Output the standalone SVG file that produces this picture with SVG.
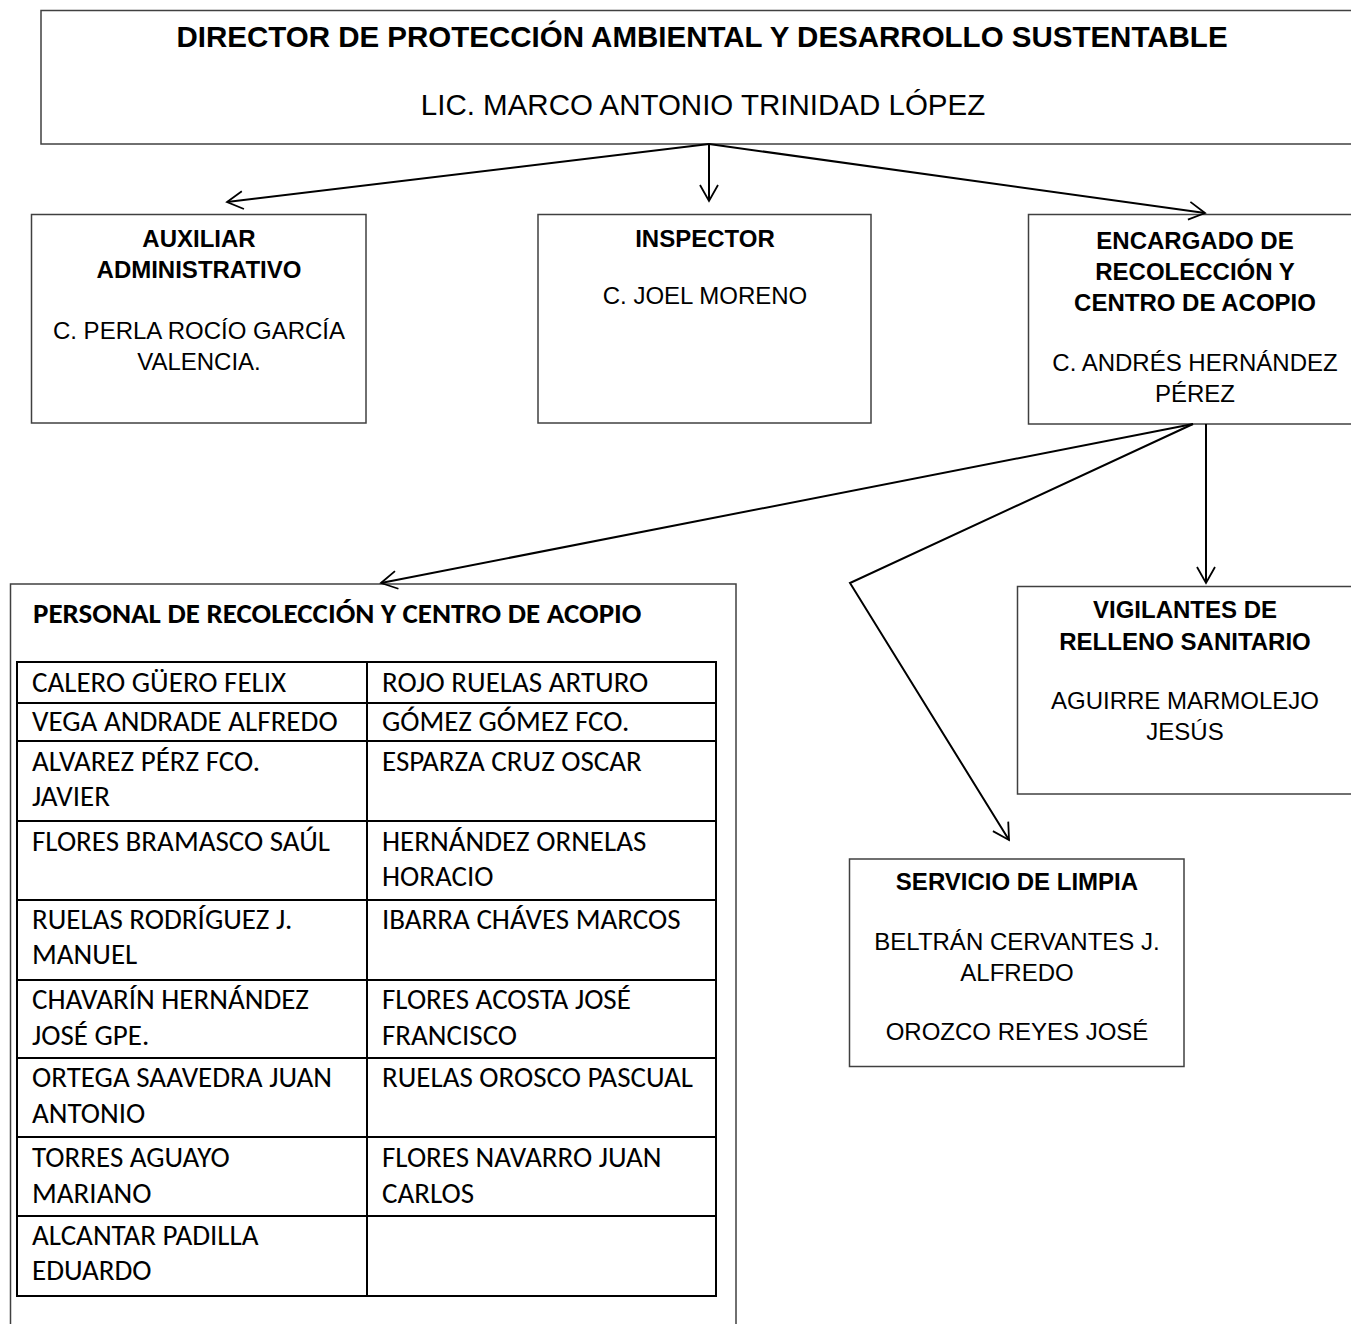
<svg xmlns="http://www.w3.org/2000/svg" width="1351" height="1324" viewBox="0 0 1351 1324">
  <style>
    .box { fill: #ffffff; stroke: #404040; stroke-width: 1.5; }
    .conn { fill: none; stroke: #000000; stroke-width: 2; }
    .hd { font-family: "Liberation Sans", Arial, sans-serif; font-weight: bold; font-size: 24px; fill: #000; text-anchor: middle; }
    .nm { font-family: "Liberation Sans", Arial, sans-serif; font-size: 24px; fill: #000; text-anchor: middle; }
    .title { font-family: "Liberation Sans", Arial, sans-serif; font-weight: bold; font-size: 29.5px; fill: #000; text-anchor: middle; }
    .dname { font-family: "Liberation Sans", Arial, sans-serif; font-size: 29.5px; fill: #000; text-anchor: middle; }
    .tbl { fill: none; stroke: #000; stroke-width: 2; }
    .cell { font-family: Carlito, Lato, "Open Sans", sans-serif; font-size: 29px; fill: #000; }
    .thd { font-family: Carlito, Lato, "Open Sans", sans-serif; font-weight: bold; font-size: 29px; fill: #000; }
  </style>
  <defs>
    <marker id="arr" markerUnits="userSpaceOnUse" viewBox="-18 -11 20 22" markerWidth="20" markerHeight="22" refX="0" refY="0" orient="auto">
      <path d="M-16,-9 L0,0 L-16,9" fill="none" stroke="#000" stroke-width="1.8"/>
    </marker>
  </defs>
  <rect width="1351" height="1324" fill="#ffffff"/>

  <g id="director">
    <rect class="box" x="41" y="10.5" width="1330" height="133.5"/>
    <text class="title" x="702" y="47">DIRECTOR DE PROTECCIÓN AMBIENTAL Y DESARROLLO SUSTENTABLE</text>
    <text class="dname" x="703" y="115">LIC. MARCO ANTONIO TRINIDAD LÓPEZ</text>
  </g>

  <g id="auxiliar">
    <rect class="box" x="31.5" y="214.5" width="334.5" height="208.5"/>
    <text class="hd" x="199" y="247">AUXILIAR</text>
    <text class="hd" x="199" y="278">ADMINISTRATIVO</text>
    <text class="nm" x="199" y="339">C. PERLA ROCÍO GARCÍA</text>
    <text class="nm" x="199" y="370">VALENCIA.</text>
  </g>

  <g id="inspector">
    <rect class="box" x="538" y="214.5" width="333" height="208.5"/>
    <text class="hd" x="705" y="247">INSPECTOR</text>
    <text class="nm" x="705" y="304">C. JOEL MORENO</text>
  </g>

  <g id="encargado">
    <rect class="box" x="1028.5" y="214.5" width="340" height="209.5"/>
    <text class="hd" x="1195" y="249">ENCARGADO DE</text>
    <text class="hd" x="1195" y="280">RECOLECCIÓN Y</text>
    <text class="hd" x="1195" y="311">CENTRO DE ACOPIO</text>
    <text class="nm" x="1195" y="371">C. ANDRÉS HERNÁNDEZ</text>
    <text class="nm" x="1195" y="402">PÉREZ</text>
  </g>

  <g id="personal">
    <rect class="box" x="10.5" y="584" width="725.5" height="780"/>
    <text class="thd" x="33" y="623">PERSONAL DE RECOLECCIÓN Y CENTRO DE ACOPIO</text>
    <g id="tabla">
      <rect class="tbl" x="17" y="662" width="699" height="634"/>
      <line class="tbl" x1="367" y1="662" x2="367" y2="1296"/>
      <line class="tbl" x1="17" y1="703" x2="716" y2="703"/>
      <line class="tbl" x1="17" y1="741" x2="716" y2="741"/>
      <line class="tbl" x1="17" y1="821" x2="716" y2="821"/>
      <line class="tbl" x1="17" y1="900" x2="716" y2="900"/>
      <line class="tbl" x1="17" y1="980" x2="716" y2="980"/>
      <line class="tbl" x1="17" y1="1058" x2="716" y2="1058"/>
      <line class="tbl" x1="17" y1="1137" x2="716" y2="1137"/>
      <line class="tbl" x1="17" y1="1216" x2="716" y2="1216"/>
    </g>
    <text class="cell" x="32" y="692">CALERO GÜERO FELIX</text>
    <text class="cell" x="382" y="692">ROJO RUELAS ARTURO</text>
    <text class="cell" x="32" y="731">VEGA ANDRADE ALFREDO</text>
    <text class="cell" x="382" y="731">GÓMEZ GÓMEZ FCO.</text>
    <text class="cell" x="32" y="771">ALVAREZ PÉRZ FCO.</text>
    <text class="cell" x="32" y="806">JAVIER</text>
    <text class="cell" x="382" y="771">ESPARZA CRUZ OSCAR</text>
    <text class="cell" x="32" y="851">FLORES BRAMASCO SAÚL</text>
    <text class="cell" x="382" y="851">HERNÁNDEZ ORNELAS</text>
    <text class="cell" x="382" y="886">HORACIO</text>
    <text class="cell" x="32" y="929">RUELAS RODRÍGUEZ J.</text>
    <text class="cell" x="32" y="964">MANUEL</text>
    <text class="cell" x="382" y="929">IBARRA CHÁVES MARCOS</text>
    <text class="cell" x="32" y="1009">CHAVARÍN HERNÁNDEZ</text>
    <text class="cell" x="32" y="1045">JOSÉ GPE.</text>
    <text class="cell" x="382" y="1009">FLORES ACOSTA JOSÉ</text>
    <text class="cell" x="382" y="1045">FRANCISCO</text>
    <text class="cell" x="32" y="1087">ORTEGA SAAVEDRA JUAN</text>
    <text class="cell" x="32" y="1123">ANTONIO</text>
    <text class="cell" x="382" y="1087">RUELAS OROSCO PASCUAL</text>
    <text class="cell" x="32" y="1167">TORRES AGUAYO</text>
    <text class="cell" x="32" y="1203">MARIANO</text>
    <text class="cell" x="382" y="1167">FLORES NAVARRO JUAN</text>
    <text class="cell" x="382" y="1203">CARLOS</text>
    <text class="cell" x="32" y="1245">ALCANTAR PADILLA</text>
    <text class="cell" x="32" y="1280">EDUARDO</text>
  </g>

  <g id="vigilantes">
    <rect class="box" x="1017.5" y="586.5" width="350" height="207.5"/>
    <text class="hd" x="1185" y="618">VIGILANTES DE</text>
    <text class="hd" x="1185" y="650">RELLENO SANITARIO</text>
    <text class="nm" x="1185" y="709">AGUIRRE MARMOLEJO</text>
    <text class="nm" x="1185" y="740">JESÚS</text>
  </g>

  <g id="servicio">
    <rect class="box" x="849.5" y="859" width="334.5" height="207.5"/>
    <text class="hd" x="1017" y="890">SERVICIO DE LIMPIA</text>
    <text class="nm" x="1017" y="950">BELTRÁN CERVANTES J.</text>
    <text class="nm" x="1017" y="981">ALFREDO</text>
    <text class="nm" x="1017" y="1040">OROZCO REYES JOSÉ</text>
  </g>

  <g id="connectors">
    <line class="conn" x1="709" y1="144" x2="227" y2="202" marker-end="url(#arr)"/>
    <line class="conn" x1="709" y1="144" x2="709" y2="201" marker-end="url(#arr)"/>
    <line class="conn" x1="709" y1="144" x2="1205" y2="213" marker-end="url(#arr)"/>
    <line class="conn" x1="1193" y1="424" x2="381" y2="583" marker-end="url(#arr)"/>
    <polyline class="conn" points="1193,424 850,583 1009,840" marker-end="url(#arr)"/>
    <line class="conn" x1="1206" y1="424" x2="1206" y2="583" marker-end="url(#arr)"/>
  </g>
</svg>
